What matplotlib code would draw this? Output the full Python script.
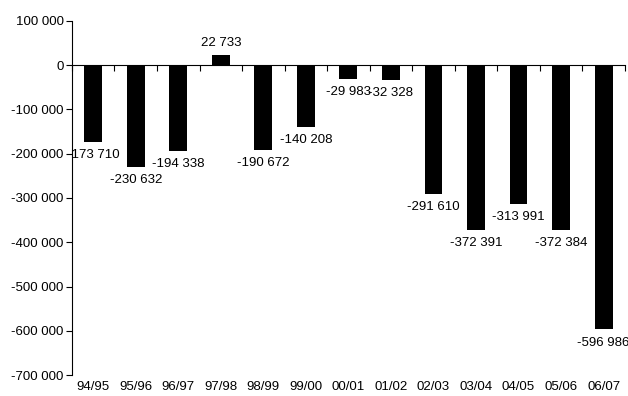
import matplotlib
matplotlib.use("Agg")
import matplotlib.pyplot as plt
import matplotlib.transforms as mtransforms
import numpy as np
from matplotlib.ticker import FuncFormatter

plt.rcParams["font.family"] = ["Liberation Sans", "DejaVu Sans"]

seasons = ["94/95", "95/96", "96/97", "97/98", "98/99", "99/00", "00/01",
           "01/02", "02/03", "03/04", "04/05", "05/06", "06/07"]
balance = [-173710, -230632, -194338, 22733, -190672, -140208, -29983,
           -32328, -291610, -372391, -313991, -372384, -596986]


def fmt_space(v, pos=None):
    return f"{int(round(v)):,}".replace(",", " ")


fig = plt.figure(figsize=(6.28, 3.96), dpi=100)
ax = fig.add_axes([0.1146, 0.053, 0.8804, 0.894])

x = np.arange(len(seasons))
ax.bar(x, balance, width=0.42, color="black")
ax.set_xlim(-0.5, len(seasons) - 0.5)
ax.set_ylim(-700000, 100000)
ax.set_yticks(np.arange(-700000, 100001, 100000))
ax.yaxis.set_major_formatter(FuncFormatter(fmt_space))

for spine in ("top", "right"):
    ax.spines[spine].set_visible(False)
ax.spines["bottom"].set_position(("data", 0))
ax.spines["bottom"].set_linewidth(0.8)
ax.spines["left"].set_linewidth(0.8)
ax.set_xticks(np.arange(-0.5, len(seasons), 1.0))
ax.set_xticklabels([])
ax.tick_params(axis="x", direction="out", length=4, width=0.8)
ax.tick_params(axis="y", direction="out", length=4, width=0.8,
               labelsize=9.5, pad=2)

trans = mtransforms.blended_transform_factory(ax.transData, ax.transAxes)
for xi, s in zip(x, seasons):
    ax.text(xi, -0.018, s, transform=trans, ha="center", va="top",
            fontsize=9.5)

for xi, v in zip(x, balance):
    off = 9 if v > 0 else -9.5
    ax.annotate(fmt_space(v), (xi, v), xytext=(0, off),
                textcoords="offset points", ha="center", va="center",
                fontsize=9.5, annotation_clip=False)

fig.savefig("out.png", dpi=100)
